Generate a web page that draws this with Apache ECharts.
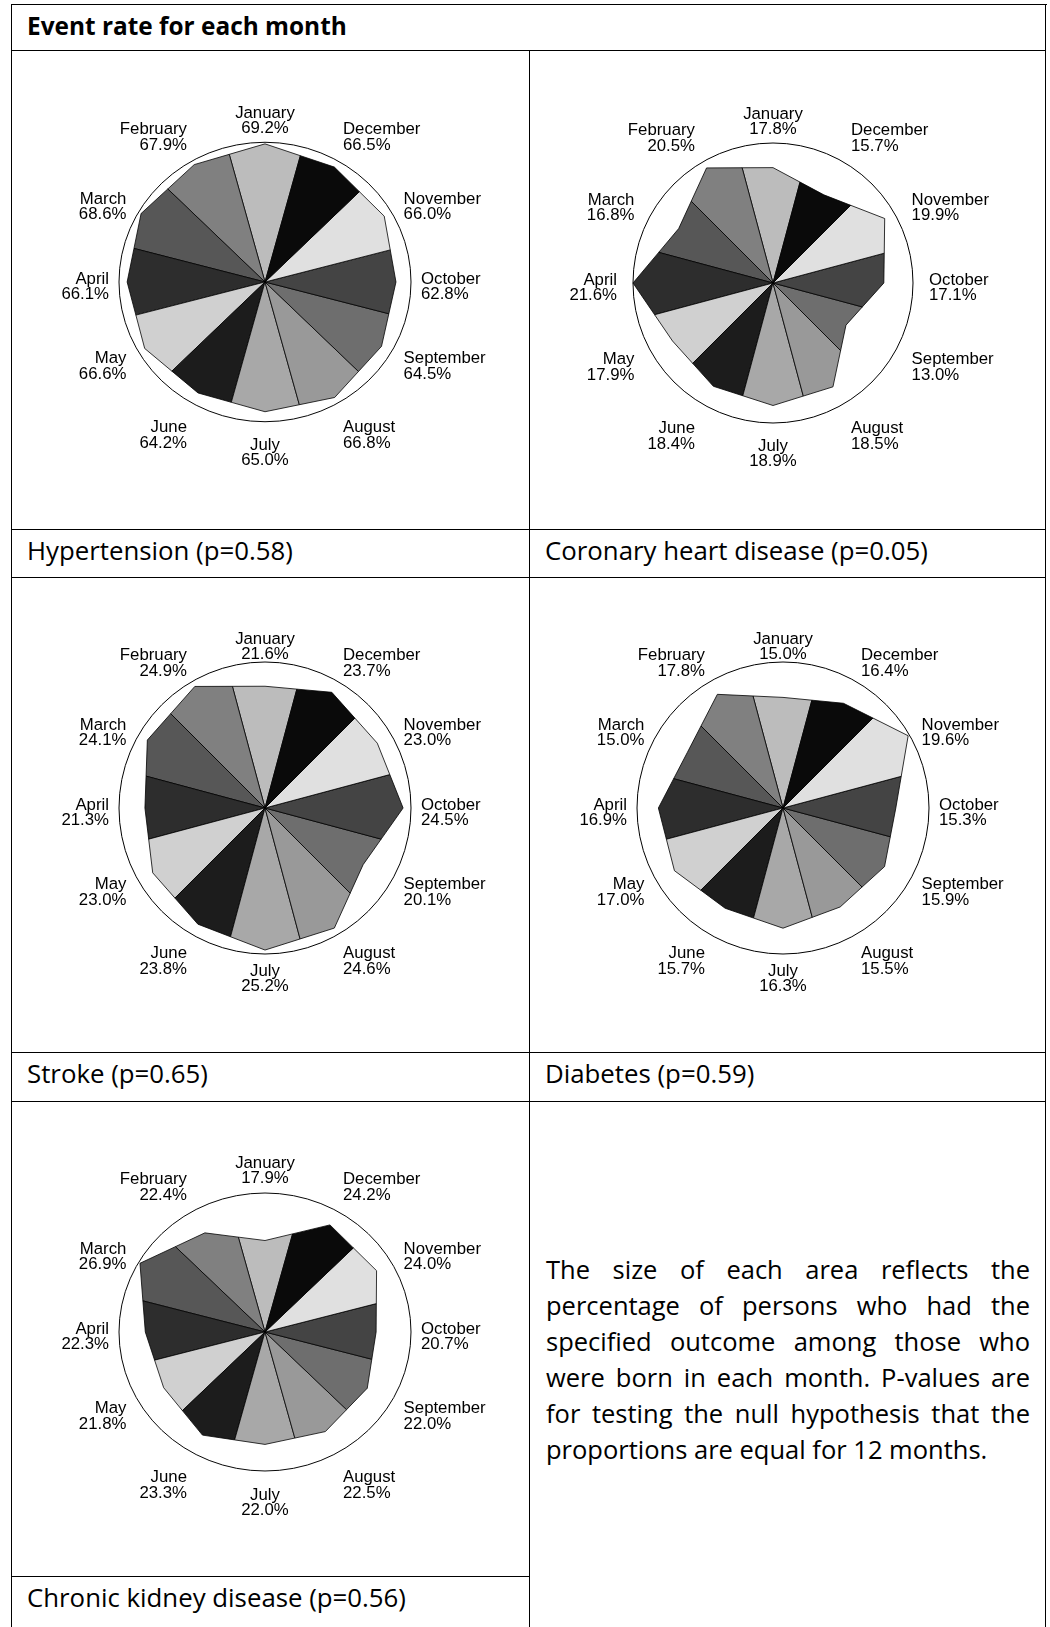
<!DOCTYPE html>
<html>
<head>
<meta charset="utf-8">
<title>Event rate for each month</title>
<script src="https://cdn.jsdelivr.net/npm/echarts@6.0.0/dist/echarts.min.js"></script>
<style>
  html, body { margin: 0; padding: 0; background: #fff; }
  #page { position: relative; width: 1050px; height: 1627px; overflow: hidden; font-family: "Open Sans", sans-serif; color: #000; }
  .h { position: absolute; height: 0; border-top: 1.5px solid #000; }
  .v { position: absolute; width: 0; border-left: 1.5px solid #000; }
  .txt { position: absolute; font-size: 25.8px; line-height: 30px; white-space: nowrap; }
  .head { font-weight: bold; font-size: 24.4px; }
  .para { position: absolute; left: 546px; top: 1252px; width: 484px; font-size: 25.5px; line-height: 35.9px; }
  .para div { text-align: justify; text-align-last: justify; white-space: nowrap; }
  .para div.last { text-align-last: left; }
  #main { position: absolute; left: 0; top: 0; width: 1050px; height: 1627px; }
</style>
</head>
<body>
<div id="page">
  <!-- table frame -->
  <div class="h" style="left:12px; top:4.25px; width:1035px"></div>
  <div class="v" style="left:11.25px; top:4.25px; height:1640px"></div>
  <div class="v" style="left:1045.25px; top:4.25px; height:1640px"></div>
  <div class="h" style="left:12px; top:50.25px; width:1034px"></div>
  <div class="v" style="left:529.25px; top:51px; height:1600px"></div>
  <div class="h" style="left:12px; top:529.25px; width:1034px"></div>
  <div class="h" style="left:12px; top:577.25px; width:1034px"></div>
  <div class="h" style="left:12px; top:1052.25px; width:1034px"></div>
  <div class="h" style="left:12px; top:1101.25px; width:1034px"></div>
  <div class="h" style="left:12px; top:1576.25px; width:518px"></div>

  <!-- table texts -->
  <div class="txt head" style="left:27px; top:10.5px">Event rate for each month</div>
  <div class="txt" style="left:27px; top:535px">Hypertension (p=0.58)</div>
  <div class="txt" style="left:545px; top:535px">Coronary heart disease (p=0.05)</div>
  <div class="txt" style="left:27px; top:1058px">Stroke (p=0.65)</div>
  <div class="txt" style="left:545px; top:1058px">Diabetes (p=0.59)</div>
  <div class="txt" style="left:27px; top:1582px">Chronic kidney disease (p=0.56)</div>
  <div class="para">
    <div>The size of each area reflects the</div>
    <div>percentage of persons who had the</div>
    <div>specified outcome among those who</div>
    <div>were born in each month. P-values are</div>
    <div>for testing the null hypothesis that the</div>
    <div class="last">proportions are equal for 12 months.</div>
  </div>

  <div id="main"></div>
</div>

<script>
  // months, January first, going round anticlockwise from the top
  var months = ['January', 'February', 'March', 'April', 'May', 'June',
                'July', 'August', 'September', 'October', 'November', 'December'];

  // event rate (%) by month of birth
  var hypertension = [69.2, 67.9, 68.6, 66.1, 66.6, 64.2, 65.0, 66.8, 64.5, 62.8, 66.0, 66.5];
  var coronary     = [17.8, 20.5, 16.8, 21.6, 17.9, 18.4, 18.9, 18.5, 13.0, 17.1, 19.9, 15.7];
  var stroke       = [21.6, 24.9, 24.1, 21.3, 23.0, 23.8, 25.2, 24.6, 20.1, 24.5, 23.0, 23.7];
  var diabetes     = [15.0, 17.8, 15.0, 16.9, 17.0, 15.7, 16.3, 15.5, 15.9, 15.3, 19.6, 16.4];
  var kidney       = [17.9, 22.4, 26.9, 22.3, 21.8, 23.3, 22.0, 22.5, 22.0, 20.7, 24.0, 24.2];

  // grey shade of each month's wedge
  var monthFills = ['#bcbcbc', '#808080', '#575757', '#2d2d2d', '#d0d0d0', '#1c1c1c',
                    '#a8a8a8', '#999999', '#6e6e6e', '#444444', '#e0e0e0', '#0a0a0a'];

  // one polar per panel: where it sits, top of its radius scale, vertical squash of the drawing
  var panels = [
    { values: hypertension, center: [265, 282], radius: 146, max: 70, squash: 0.957 },
    { values: coronary,     center: [773, 283], radius: 140, max: 21.6, squash: 1 },
    { values: stroke,       center: [265, 808], radius: 146, max: 25.9, squash: 1 },
    { values: diabetes,     center: [783, 808], radius: 146, max: 19.8, squash: 1 },
    { values: kidney,       center: [265, 1332], radius: 146, max: 27.2, squash: 0.952 }
  ];

  // label placement round each panel
  var LABEL_X = 156, LABEL_Y = 166, LABEL_DROP = 5;
  var labelNudgeY = [0, -6, 3, 0, -3.5, 4.5, 0, 4.5, -3.5, 0, 3, -6];
  var labelNudgeX = [0, 0, 3.5, 0, 3.5, 0, 0, 0, 3.5, 0, 3.5, 0];

  // where the ray c + t*d meets the line a-b
  function cross(c, d, a, b) {
    var ex = b[0] - a[0], ey = b[1] - a[1];
    var den = d[0] * ey - d[1] * ex;
    var t = ((a[0] - c[0]) * ey - (a[1] - c[1]) * ex) / den;
    return [c[0] + t * d[0], c[1] + t * d[1]];
  }

  function wedges(p) {
    var values = p.values;
    var n = values.length;
    return function (params, api) {
      var i = params.dataIndex;
      var c = api.coord([0, i]);
      var tip = api.coord([values[i], i]);
      var before = api.coord([values[(i + n - 1) % n], i - 1]);
      var after = api.coord([values[(i + 1) % n], i + 1]);
      var r1 = api.coord([1, i - 0.5]);
      var r2 = api.coord([1, i + 0.5]);
      var p1 = cross(c, [r1[0] - c[0], r1[1] - c[1]], before, tip);
      var p2 = cross(c, [r2[0] - c[0], r2[1] - c[1]], tip, after);

      var shapes = [];
      if (i === 0) {
        // the outer ring sits at the top of the radius scale
        var edge = api.coord([p.max, 0]);
        shapes.push({
          type: 'circle',
          shape: { cx: c[0], cy: c[1], r: Math.abs(c[1] - edge[1]) },
          style: { fill: 'none', stroke: '#000', lineWidth: 1, strokeNoScale: true }
        });
      }
      shapes.push({
        type: 'polygon',
        shape: { points: [c, p1, tip, p2] },
        style: { fill: monthFills[i], stroke: '#000', lineWidth: 0.8, strokeNoScale: true }
      });

      var dir = api.coord([1, i]);
      var dx = dir[0] - c[0], dy = dir[1] - c[1];
      var len = Math.sqrt(dx * dx + dy * dy);
      var side = dx < -1 ? -1 : (dx > 1 ? 1 : 0);
      var lx = c[0] + dx / len * LABEL_X + side * labelNudgeX[i];
      var ly = c[1] + dy / len * LABEL_Y + LABEL_DROP + labelNudgeY[i];
      var align = side === 0 ? 'center' : (side < 0 ? 'right' : 'left');

      return {
        type: 'group',
        children: [
          {
            type: 'group',
            originX: c[0],
            originY: c[1],
            scaleY: p.squash,
            children: shapes
          },
          {
            type: 'text',
            x: lx,
            y: ly,
            style: {
              text: months[i] + '\n' + values[i].toFixed(1) + '%',
              align: align,
              verticalAlign: 'middle',
              font: '16.8px "Liberation Sans", Arial, sans-serif',
              lineHeight: 15.5,
              fill: '#000'
            }
          }
        ]
      };
    };
  }

  var myChart = echarts.init(document.getElementById('main'));

  var option = {
    backgroundColor: 'transparent',
    animation: false,
    polar: panels.map(function (p) {
      return { center: p.center, radius: p.radius };
    }),
    angleAxis: panels.map(function (p, k) {
      return {
        polarIndex: k,
        type: 'value',
        min: 0,
        max: 12,
        startAngle: 90,
        clockwise: false,
        axisLine: { show: false },
        axisTick: { show: false },
        axisLabel: { show: false },
        splitLine: { show: false }
      };
    }),
    radiusAxis: panels.map(function (p, k) {
      return {
        polarIndex: k,
        type: 'value',
        min: 0,
        max: p.max,
        axisLine: { show: false },
        axisTick: { show: false },
        axisLabel: { show: false },
        splitLine: { show: false }
      };
    }),
    series: panels.map(function (p, k) {
      return {
        type: 'custom',
        coordinateSystem: 'polar',
        polarIndex: k,
        silent: true,
        data: p.values.map(function (v, i) { return [v, i]; }),
        renderItem: wedges(p)
      };
    })
  };

  myChart.setOption(option);
</script>
</body>
</html>
